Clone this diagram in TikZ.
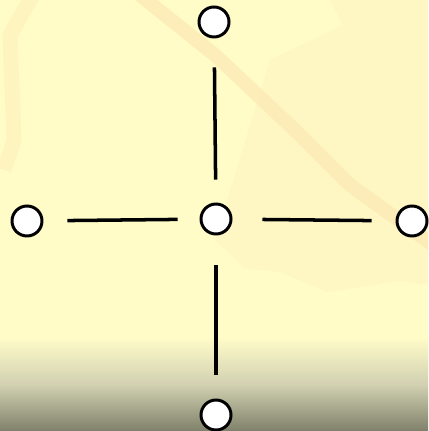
\documentclass[tikz,border=0pt]{standalone}
\usetikzlibrary{positioning}
\definecolor{paper}{HTML}{FFFCC8}
\definecolor{band}{HTML}{FCE6B0}
\definecolor{ground}{HTML}{7E7F69}
\begin{document}
\begin{tikzpicture}[
x=0.02cm,y=-0.02cm,
spot/.style={circle,draw,fill=white,line width=1.7pt,minimum size=0.6cm,inner sep=0pt},
link/.style={line width=2pt},
every node/.style={spot}
]
\useasboundingbox (0,0) rectangle (428,431);
% background
\begin{scope}
\clip (0,0) rectangle (428,431);
\fill[paper] (0,0) rectangle (428,431);
\fill[band,opacity=0.2] (330,0) -- (428,0) -- (428,285) -- (400,281) -- (327,292) -- (280,272) -- (245,268) -- (215,240) -- (270,60) -- (343,25) -- cycle;
\draw[band,line width=0.28cm,opacity=0.6] (140,-5) -- (215,55) -- (300,135) -- (350,185) -- (440,250);
\draw[band,line width=0.3cm,opacity=0.35] (33,-5) -- (10,35) -- (14,140) -- (4,170);
\shade[top color=paper,bottom color=ground,middle color=paper!55!ground!80!white] (0,338) rectangle (428,432);
\end{scope}
% nodes
\node (c) at (216,219) {};
\node (t) at (214,22) {};
\node (b) at (216,415) {};
\node (l) at (27,221) {};
\node (r) at (412,221) {};
% links
\draw[link,shorten <=0.46cm,shorten >=0.58cm] (c) -- (t);
\draw[link,shorten <=0.6cm,shorten >=0.48cm] (c) -- (b);
\draw[link,shorten <=0.44cm,shorten >=0.48cm] (c) -- (l);
\draw[link,shorten <=0.6cm,shorten >=0.48cm] (c) -- (r);
\end{tikzpicture}
\end{document}
